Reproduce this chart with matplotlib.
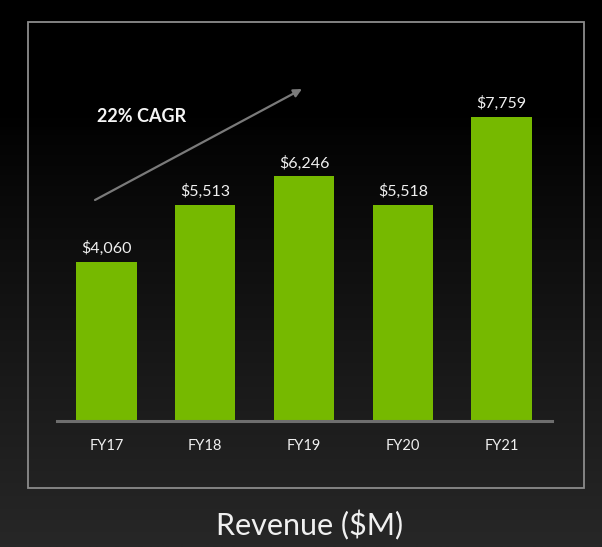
import numpy as np
import matplotlib
matplotlib.use('Agg')
import matplotlib.pyplot as plt
from matplotlib.patches import Rectangle
from matplotlib.colors import LinearSegmentedColormap

# data
years = ["FY17", "FY18", "FY19", "FY20", "FY21"]
revenue = [4060, 5513, 6246, 5518, 7759]
labels = ["$4,060", "$5,513", "$6,246", "$5,518", "$7,759"]
cagr_text = "22% CAGR"
title = "Revenue ($M)"

plt.rcParams['font.family'] = ['Lato', 'DejaVu Sans']

W, H = 602, 547
fig = plt.figure(figsize=(W / 100, H / 100), dpi=100)

# background gradient (black top -> dark gray bottom)
bg = fig.add_axes([0, 0, 1, 1])
t = np.linspace(0, 1, 300)
g = np.clip((t - 0.2) / 0.8, 0, 1) ** 0.9
bg.imshow(g[:, None], aspect='auto', extent=[0, 1, 0, 1], origin='upper',
          cmap=LinearSegmentedColormap.from_list('bg', ['#000000', '#272727']),
          vmin=0, vmax=1)
bg.set_xlim(0, 1)
bg.set_ylim(0, 1)
bg.axis('off')

# outer frame
bg.add_patch(Rectangle((28 / W, 1 - 488 / H), (584 - 28) / W, (488 - 22) / H,
                       fill=False, edgecolor='#8c8c8c', linewidth=1.3))

# bar axes
ax_l, ax_r = 57, 552
ax_b, ax_t = 421, 22
ax = fig.add_axes([ax_l / W, 1 - ax_b / H, (ax_r - ax_l) / W, (ax_b - ax_t) / H])
ax.patch.set_alpha(0)
x = np.arange(len(years))
ax.bar(x, revenue, width=0.61, color='#76b900')
ax.set_xlim(-0.5, 4.51)
ax.set_ylim(0, 7759 * (ax_b - ax_t) / 304)

for xi, v, lab in zip(x, revenue, labels):
    ax.text(xi, v + 150, lab, ha='center', va='bottom', color='#f0f0f0', fontsize=11.5)

ax.set_xticks(x)
ax.set_xticklabels(years, color='#f0f0f0', fontsize=10.5)
ax.tick_params(axis='x', length=0, pad=13)
ax.set_yticks([])
for s in ['top', 'left', 'right']:
    ax.spines[s].set_visible(False)
ax.spines['bottom'].set_color('#6e6e6e')
ax.spines['bottom'].set_linewidth(2.2)

# growth arrow and CAGR label
bg.annotate('', xy=(302 / W, 1 - 89 / H), xytext=(95 / W, 1 - 200 / H),
            arrowprops=dict(arrowstyle='-|>', color='#7a7a7a', lw=1.6,
                            mutation_scale=12, shrinkA=0, shrinkB=0))
bg.text(97 / W, 1 - 117 / H, cagr_text, ha='left', va='center',
        color='#f5f5f5', fontsize=13, fontweight='bold')

# title
bg.text(310 / W, 1 - 525 / H, title, ha='center', va='center',
        color='#f0f0f0', fontsize=22)

fig.savefig('out.png', dpi=100)
